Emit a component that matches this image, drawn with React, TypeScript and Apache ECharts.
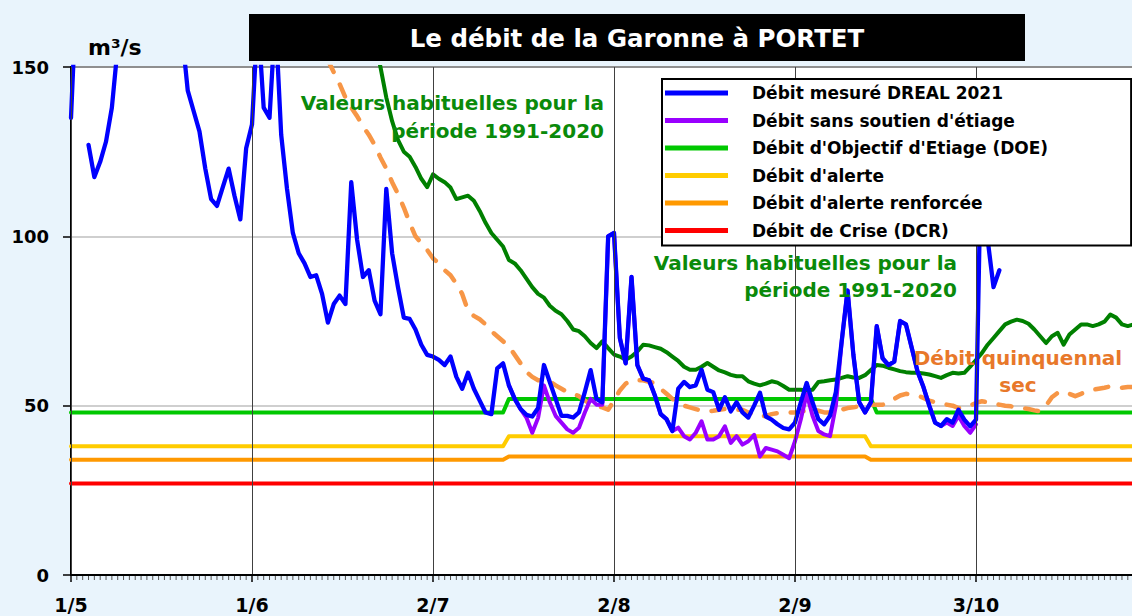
import React, { useEffect, useRef } from 'react';
import * as echarts from 'echarts';

// ---- axis tick labels (one every 31 days, day 0 = 1 May) ----
const xTickLabels = ['1/5', '1/6', '2/7', '2/8', '2/9', '3/10'];
const lastDay = 186;

// ---- Débit mesuré DREAL 2021, daily from day 0 (1 May) ----
const measuredStart = 0;
const measured: (number | null)[] = [
  135, 175, null, 127, 117.5, 122, 128, 138, 156, 190,
  210, 230, 225, 210, 200, 190, 185, 178, 170, 160,
  143, 137, 131, 120, 111, 109, 114.5, 120, 112, 105,
  126, 133, 165, 138, 135, 165, 130, 114, 101, 95,
  92, 88, 88.5, 83, 74.5, 80, 82.5, 80, 116, 99,
  88, 90, 81, 77, 114, 95, 85, 76, 75.6, 72.5,
  68, 65, 64.5, 63.5, 62, 64.5, 58.5, 55, 59.7, 55,
  51.5, 48, 47.5, 61, 62.5, 56, 52, 49, 47.3, 46.8,
  49.3, 62, 57, 52, 47, 47, 46.5, 48, 54, 60.5,
  52, 51, 100, 101, 70, 62.5, 88, 62, 58, 57.5,
  53, 47.5, 46, 42.5, 55, 57, 55.5, 56, 60.6, 54.7,
  54, 48.8, 52.5, 48.3, 51, 48, 46.5, 50, 53.8, 46.8,
  45.9, 44.5, 43.4, 43, 45, 51, 56.7, 51, 46, 44.5,
  47, 54, 69, 84, 65, 51, 48, 51, 73.5, 64,
  62, 63, 75, 74, 67, 60, 55.5, 50, 45, 44,
  46, 45, 48.8, 45.9, 43.9, 45.9, 135, 99, 85, 90,
];

// ---- Débit sans soutien d'étiage, daily from day 75 ----
const natStart = 75;
const natural: number[] = [
  56, 52, 49, 46.5, 42, 46.4, 56, 51, 47, 45,
  43, 42, 43.5, 48, 52, 50.3, 50.3, 100, 101, 70,
  62.5, 88, 62, 58, 57.5, 53, 47.5, 46, 42.5, 43.5,
  41, 40, 42, 45.4, 40, 40, 41, 43.9, 39, 41,
  38.5, 39.5, 41.4, 35, 37.5, 37, 36.5, 35.5, 34.5, 39.5,
  46, 53.5, 47, 42.5, 41.5, 41, 50, 69, 84, 65,
  51, 48, 51, 73.5, 64, 62, 63, 75, 74, 67,
  60, 55.5, 50, 45, 44, 45, 44, 47, 44, 42,
  44.5,
];

// ---- Valeurs habituelles 1991-2020, daily from day 52 ----
const histStart = 52;
const historical: number[] = [
  158, 150, 141, 134, 128.5, 125, 123.5, 120.5, 117, 114.5,
  118.3, 117, 116, 114.4, 111, 111.5, 112, 110.5, 107.5, 104,
  101, 99, 97, 93, 92, 90, 87.5, 85, 83, 81.9,
  79.5, 78, 77, 75, 72.5, 72, 70.5, 68.5, 67, 69,
  67, 65.1, 64.5, 63.6, 64.5, 66, 68, 67.8, 67.3, 66.8,
  65.8, 64.5, 63.2, 61.5, 60.6, 60.6, 61.5, 62.6, 61.5, 60.4,
  59.8, 59.1, 58.7, 58.7, 57.2, 56.5, 56, 56.5, 57.2, 56.8,
  55.8, 54.7, 54.7, 54.7, 54.5, 54.7, 57, 57.2, 57.5, 57.7,
  58.2, 58.7, 58.3, 58.2, 59, 60.5, 62, 61.8, 61.2, 60.7,
  60.2, 59.9, 59.7, 59.7, 59.5, 59.2, 58.7, 58.2, 59, 59.7,
  59.5, 59.7, 61.5, 63.5, 65.5, 68, 70, 72, 74, 74.8,
  75.4, 75, 74.2, 72.5, 70.5, 68.5, 70.5, 71.5, 68, 71,
  72.5, 74, 74, 73.5, 74, 74.8, 76.9, 76, 74, 73.5,
  74, 74.5, 75, 74.5, 74,
];

// ---- Débit quinquennal sec, daily from day 44 ----
const quinStart = 44;
const quinquennal: number[] = [
  152, 148.5, 145, 141, 138, 135.5, 132.5, 130, 127, 123.3,
  120, 116, 112.5, 108.5, 104, 100, 98, 96, 93.5, 92,
  90, 88.5, 86, 83, 78, 76.5, 75.5, 74, 72, 70.5,
  69, 67.5, 65, 62.5, 60, 58.5, 57.5, 57.5, 57.2, 56,
  55, 54, 53.5, 52.8, 51.5, 50.5, 50, 49.5, 48.8, 51.5,
  54.5, 56.5, 57.5, 57.5, 57.5, 57, 56.7, 55, 53.5, 52,
  51, 50, 49.5, 49, 48.5, 48.3, 48.5, 48.8, 49, 49,
  48.8, 48.8, 48, 47.5, 46.8, 47, 47.5, 47.8, 47.8, 48,
  48, 48.3, 48.5, 49, 48.5, 48, 48, 48.3, 48.8, 49.3,
  49.5, 49.8, 50, 50.3, 50.3, 50.3, 50.8, 52, 53, 53.5,
  53.3, 53, 52.3, 51.5, 51, 50.5, 50.3, 50, 49.3, 49.5,
  50, 50.8, 51.3, 51, 50.5, 50.3, 50, 49.8, 49.5, 49.3,
  49, 48.6, 48.3, 50, 52.5, 53.8, 54.2, 53.5, 52.8, 53.5,
  54.2, 54.7, 55, 55.3, 55.7, 55.5, 55.3, 55.5, 55.5, 55.3,
  55.2, 55, 55,
];

// ---- regulatory thresholds: [day, m3/s] ----
const doeLevels = [[0, 48], [74, 48], [75, 52], [137, 52], [138, 48], [186, 48]];
const alertLevels = [[0, 38], [74, 38], [75, 41], [136, 41], [137, 38], [186, 38]];
const reinforcedLevels = [[0, 34], [74, 34], [75, 35], [136, 35], [137, 34], [186, 34]];
const crisisLevels = [[0, 27], [186, 27]];

const seriesNames = [
  'Débit mesuré DREAL 2021',
  "Débit sans soutien d'étiage",
  "Débit d'Objectif d'Etiage (DOE)",
  "Débit d'alerte",
  "Débit d'alerte renforcée",
  'Débit de Crise (DCR)',
];

const toPairs = (start: number, arr: (number | null)[]) => arr.map((v, i) => [start + i, v]);

const FONT = '"DejaVu Sans", Verdana, sans-serif';
// the plot runs past the right edge of the 1132px window (to day 186)
const CHART_W = 1160;
const CHART_H = 616;

export default function App() {
  const ref = useRef<HTMLDivElement>(null);
  useEffect(() => {
    document.body.style.margin = '0';
    const chart = echarts.init(ref.current!, null, { renderer: 'svg' });
    const line = (name: string, data: any[], color: string, width: number, extra: any = {}) => ({
      type: 'line',
      name,
      data,
      showSymbol: false,
      symbol: 'none',
      silent: true,
      color,
      itemStyle: { color },
      lineStyle: { color, width, cap: 'round', join: 'round', ...(extra.lineStyle || {}) },
      connectNulls: false,
      z: 2,
    });
    // one small tick below the axis for every day of the axis range
    const dayTicks = Array.from({ length: lastDay + 1 }, (_, d) => [d, 0]);
    const option: any = {
      animation: false,
      backgroundColor: '#E9F4FC',
      textStyle: { fontFamily: FONT },
      grid: {
        left: 71, right: 0, top: 67, bottom: 41,
        show: true, backgroundColor: '#FFFFFF', borderColor: '#000', borderWidth: 2,
      },
      xAxis: {
        type: 'value', min: 0, max: lastDay, interval: 31,
        axisLine: { show: true, lineStyle: { color: '#000', width: 2 } },
        axisTick: { show: true, length: 7, lineStyle: { color: '#000', width: 1.5 } },
        splitLine: { show: true, lineStyle: { color: '#404040', width: 1 } },
        axisLabel: {
          margin: 20, color: '#000', fontWeight: 'bold', fontSize: 19, fontFamily: FONT,
          formatter: (v: number) => xTickLabels[Math.round(v / 31)] ?? '',
        },
        z: 3,
      },
      yAxis: {
        type: 'value', min: 0, max: 150, interval: 50,
        axisLine: { show: true, lineStyle: { color: '#000', width: 2 } },
        axisTick: { show: true, length: 8, lineStyle: { color: '#000', width: 1.5 } },
        splitLine: { show: true, lineStyle: { color: '#BFBFBF', width: 1.5 } },
        axisLabel: { margin: 22, color: '#000', fontWeight: 'bold', fontSize: 18, fontFamily: FONT },
      },
      legend: {
        data: seriesNames,
        orient: 'vertical',
        left: 662, top: 79,
        padding: [4, 83, 5, 3],
        itemGap: 7.5,
        itemWidth: 63, itemHeight: 5,
        icon: 'rect',
        selectedMode: false,
        backgroundColor: '#FFFFFF',
        borderColor: '#000', borderWidth: 2, borderRadius: 0,
        z: 10,
        textStyle: {
          color: '#000', fontWeight: 'bold', fontSize: 17, fontFamily: FONT,
          lineHeight: 20, padding: [0, 0, 0, 19],
        },
      },
      graphic: [
        { type: 'rect', shape: { x: 249, y: 14, width: 776, height: 47 }, style: { fill: '#000' } },
        {
          type: 'text', x: 637, y: 38,
          style: { text: 'Le débit de la Garonne à PORTET', fill: '#fff', font: `bold 24.5px ${FONT}`, align: 'center', verticalAlign: 'middle' },
        },
        {
          type: 'text', x: 88, y: 47,
          style: { text: 'm³/s', fill: '#000', font: `bold 22px ${FONT}`, align: 'left', verticalAlign: 'middle' },
        },
        {
          type: 'text', x: 604, y: 89, z: 5,
          style: { text: 'Valeurs habituelles pour la\npériode 1991-2020', fill: '#0A8A0A', font: `bold 20px ${FONT}`, align: 'right', verticalAlign: 'top', lineHeight: 28 },
        },
        {
          type: 'text', x: 957, y: 249, z: 5,
          style: { text: 'Valeurs habituelles pour la\npériode 1991-2020', fill: '#0A8A0A', font: `bold 20px ${FONT}`, align: 'right', verticalAlign: 'top', lineHeight: 27 },
        },
        {
          type: 'text', x: 1018, y: 344, z: 5,
          style: { text: 'Débit quinquennal\nsec', fill: '#E8782A', font: `bold 20px ${FONT}`, align: 'center', verticalAlign: 'top', lineHeight: 27 },
        },
      ],
      series: [
        {
          type: 'custom',
          name: 'dayTicks',
          silent: true,
          clip: false,
          z: 4,
          data: dayTicks,
          renderItem: (_params: any, api: any) => {
            const p = api.coord([api.value(0), api.value(1)]);
            return {
              type: 'line',
              shape: { x1: p[0], y1: p[1] + 1, x2: p[0], y2: p[1] + 5 },
              style: { stroke: '#555', lineWidth: 1 },
            };
          },
        },
        line(seriesNames[5], crisisLevels, '#FF0000', 4),
        line(seriesNames[4], reinforcedLevels, '#FF9900', 4),
        line(seriesNames[3], alertLevels, '#FFCC00', 4),
        line(seriesNames[2], doeLevels, '#00C800', 4),
        line('Débit quinquennal sec', toPairs(quinStart, quinquennal), '#F79646', 4.5, { lineStyle: { type: [13, 14] } }),
        line('Valeurs habituelles 1991-2020', toPairs(histStart, historical), '#008000', 4),
        line(seriesNames[1], toPairs(natStart, natural), '#9900FF', 4),
        line(seriesNames[0], toPairs(measuredStart, measured), '#0000FF', 4.3),
      ],
    };
    chart.setOption(option);
    return () => chart.dispose();
  }, []);
  return (
    <div
      ref={ref}
      style={{ position: 'fixed', left: 0, top: 0, width: CHART_W, height: CHART_H }}
    />
  );
}
